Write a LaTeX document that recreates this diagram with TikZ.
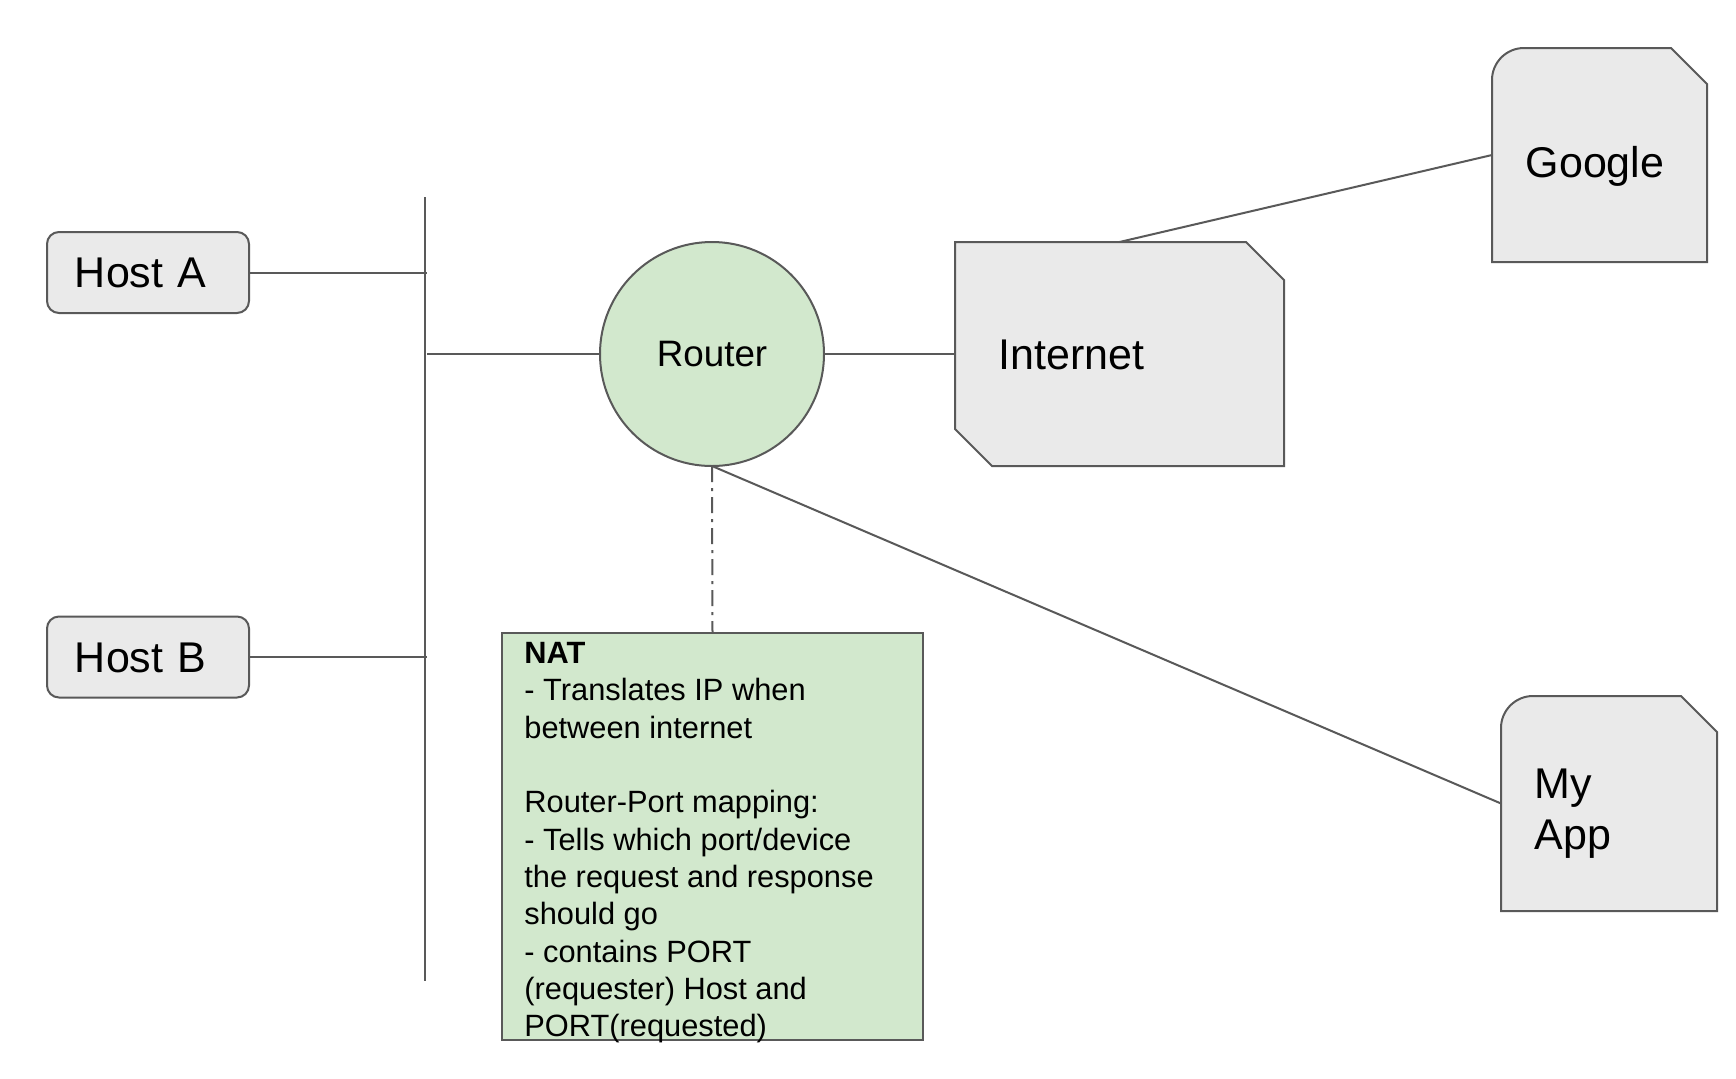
\documentclass[tikz,border=0pt]{standalone}
\usepackage{fontspec}
\setmainfont{Liberation Sans}
\definecolor{edge}{HTML}{595959}
\definecolor{grayfill}{HTML}{EAEAEA}
\definecolor{greenfill}{HTML}{D2E8CD}
\tikzset{
  shp/.style={draw=edge, fill=grayfill, line width=1pt, line join=miter},
  frame/.style={rectangle, inner sep=0pt, outer sep=0pt},
  conn/.style={draw=edge, line width=1pt},
  big/.style={font=\fontsize{21.5}{25.5}\selectfont, inner sep=0pt},
  host/.style={draw=edge, fill=grayfill, line width=1pt, rounded corners=6pt,
    minimum height=40.5pt, text width=73pt, align=left, inner xsep=14pt, inner ysep=0pt,
    text height=15.4pt, text depth=0pt, font=\fontsize{21.5}{25.5}\selectfont, outer sep=0pt},
}
\begin{document}
\begin{tikzpicture}[x=0.5pt,y=-0.5pt]
\useasboundingbox (0,0) rectangle (1736,1078);
\fill[white] (0,0) rectangle (1736,1078);

% hosts
\node[host] (hostA) at (148,272.5) {Host A};
\node[host] (hostB) at (148,657) {Host B};

% router
\node[circle, draw=edge, fill=greenfill, line width=1pt, minimum size=112pt, inner sep=0pt, outer sep=0pt,
  font=\fontsize{18.4}{21}\selectfont] (router) at (712,354) {Router};

% internet
\node[frame, minimum width=164.5pt, minimum height=112pt] (internet) at (1119.5,354) {};
\draw[shp] (955,242) -- (1246,242) -- (1284,280) -- (1284,466) -- (992,466) -- (955,429) -- cycle;
\node[big, anchor=base west] (internettext) at (998,369) {Internet};

% google
\node[frame, minimum width=107.5pt, minimum height=107pt] (google) at (1599.5,155) {};
\draw[shp] (1492,262) -- (1492,80) arc[start angle=180,end angle=90,radius=16pt] -- (1671,48) -- (1707,84) -- (1707,262) -- cycle;
\node[big, anchor=base] (googletext) at (1595,177) {Google};

% my app
\node[frame, minimum width=108pt, minimum height=107.5pt] (myapp) at (1609,803.5) {};
\draw[shp] (1501,911) -- (1501,728) arc[start angle=180,end angle=90,radius=16pt] -- (1681,696) -- (1717,732) -- (1717,911) -- cycle;
\node[big, anchor=north west, align=left] (myapptext) at (1534,769) {My\\App};

% NAT box
\node[draw=edge, fill=greenfill, line width=1pt, minimum width=210.5pt, minimum height=203.5pt, inner sep=0pt, outer sep=0pt] (nat) at (712.5,836.5) {};
\node[anchor=north west, align=left, inner sep=0pt, font=\fontsize{15.4}{18.65}\selectfont] (nattext) at (524,642)
 {\textbf{NAT}\\- Translates IP when\\between internet\\[18.65pt]Router-Port mapping:\\- Tells which port/device\\the request and response\\should go\\- contains PORT\\(requester) Host and\\PORT(requested)};

% bus
\coordinate (busTop) at (425,197);
\coordinate (busBot) at (425,981);
\coordinate (tapA) at (427,272.5);
\coordinate (tapB) at (427,657);
\coordinate (tapR) at (427,354);
\draw[conn] (busTop) -- (busBot);
\draw[conn] (hostA.east) -- (tapA);
\draw[conn] (hostB.east) -- (tapB);
\draw[conn] (tapR) -- (router.west);

% connectors
\draw[conn] (router.east) -- (internet.west);
\draw[conn] (internet.north) -- (google.west);
\draw[conn] (router.south) -- (myapp.west);
\draw[conn, dash pattern=on 8pt off 3pt on 1.5pt off 3pt] (router.south) -- (nat.north);
\end{tikzpicture}
\end{document}
